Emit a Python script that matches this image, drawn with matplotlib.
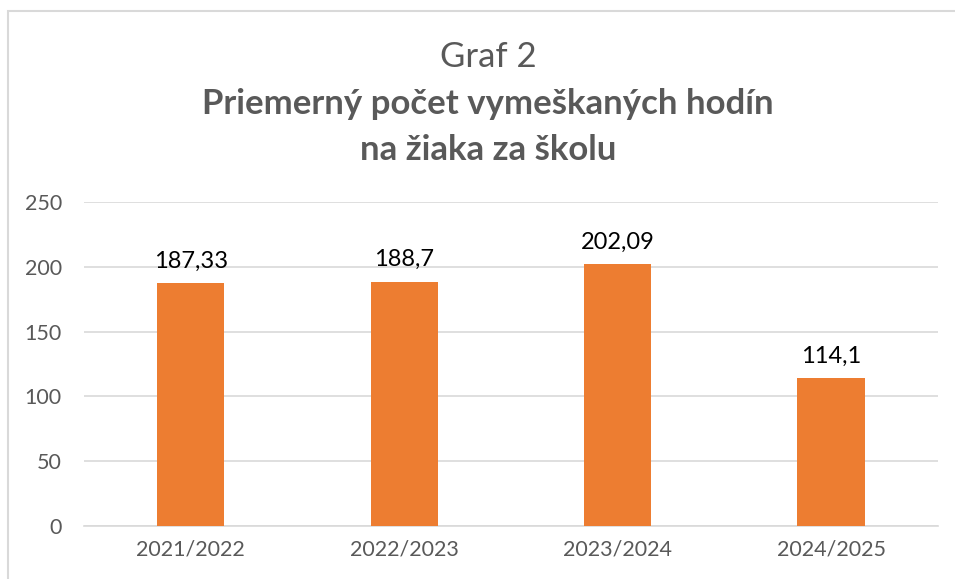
import matplotlib.pyplot as plt
from matplotlib.patches import Rectangle

plt.rcParams['font.family'] = ['Lato', 'DejaVu Sans']

roky = ["2021/2022", "2022/2023", "2023/2024", "2024/2025"]
hodiny = [187.33, 188.7, 202.09, 114.1]
popisky = ["187,33", "188,7", "202,09", "114,1"]

fig = plt.figure(figsize=(9.55, 5.79), dpi=100)
ax = fig.add_axes([0.088, 0.0915, 0.894, 0.5595])

# ramcek okolo grafu
fig.patches.append(Rectangle((7.5 / 955, -0.1), 1.2, 1 - 11 / 579 + 0.1,
                             transform=fig.transFigure, fill=False,
                             edgecolor="#d9d9d9", linewidth=1.5))

x = range(len(roky))
stlpce = ax.bar(x, hodiny, width=0.315, color="#ed7d31", zorder=3)
for s, t in zip(stlpce, popisky):
    ax.text(s.get_x() + s.get_width() / 2, s.get_height() + 9, t,
            ha="center", va="bottom", fontsize=17, color="black")

ax.set_xlim(-0.5, 3.5)
ax.set_ylim(0, 250)
ax.set_yticks([0, 50, 100, 150, 200, 250])
ax.set_xticks(list(x))
ax.set_xticklabels(roky)
ax.grid(axis="y", color="#d9d9d9", linewidth=1.2, zorder=0)
for k in ["top", "right", "left"]:
    ax.spines[k].set_visible(False)
ax.spines["bottom"].set_color("#d9d9d9")
ax.spines["bottom"].set_linewidth(1.2)
ax.tick_params(length=0, labelsize=15.5, labelcolor="#595959")
ax.tick_params(axis="y", pad=16)
ax.tick_params(axis="x", pad=10)

xs = 488 / 955
fig.text(xs, 1 - 57 / 579, "Graf 2", ha="center", va="center",
         fontsize=25, color="#595959")
fig.text(xs, 1 - 104 / 579, "Priemerný počet vymeškaných hodín",
         ha="center", va="center", fontsize=25, fontweight="bold",
         color="#595959")
fig.text(xs, 1 - 150 / 579, "na žiaka za školu",
         ha="center", va="center", fontsize=25, fontweight="bold",
         color="#595959")

fig.savefig("out.png", dpi=100)
